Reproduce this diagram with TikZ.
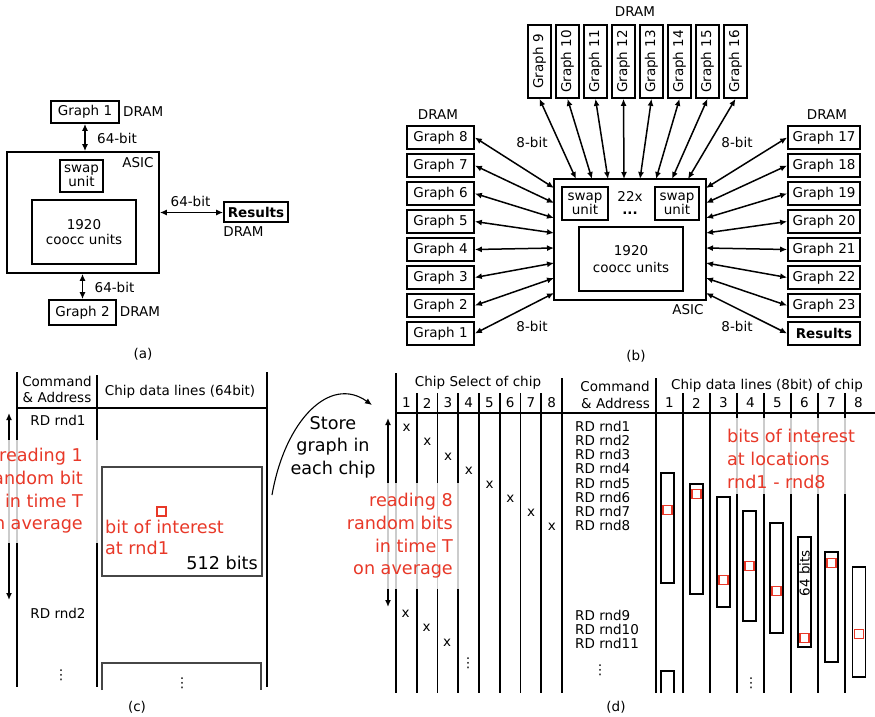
\documentclass[tikz,border=0pt]{standalone}
\usepackage{fontspec}
\setmainfont{DejaVu Sans}
\usetikzlibrary{arrows.meta}
\definecolor{myred}{RGB}{232,56,40}
\definecolor{dgray}{RGB}{70,70,70}
\begin{document}
\begin{tikzpicture}[x=1pt,y=-1pt,
  every node/.style={inner sep=0pt, font=\fontsize{13.5}{16}\selectfont},
  gbox/.style={draw, line width=1.7pt, fill=white, inner sep=0pt},
  dbl/.style={{Latex[length=7pt,width=6pt]}-{Latex[length=7pt,width=6pt]}, line width=1.5pt},
  tline/.style={line width=1.9pt},
  big/.style={font=\fontsize{17.6}{22.7}\selectfont},
  redtxt/.style={big, text=myred},
  rsq/.style={draw=myred, line width=1.5pt, minimum size=9pt, inner sep=0pt, fill=white},
  tall/.style={draw, line width=1.6pt, minimum width=13pt, minimum height=110pt},
  veil/.style={fill=white, fill opacity=0.8},
]
\useasboundingbox (0,0) rectangle (875,716);

% ---------------- (a) ----------------
\node[gbox, minimum width=68pt, minimum height=22pt] (ag1) at (85,112) {Graph 1};
\node[anchor=west] (ad1) at (123,112) {DRAM};
\node[gbox, minimum width=152pt, minimum height=121pt] (aasic) at (83,212.5) {};
\node (aasiclbl) at (138,163) {ASIC};
\node[gbox, minimum width=43pt, minimum height=32pt, align=center, font=\fontsize{13.5}{14}\selectfont] (aswap) at (81.5,176) {swap\\unit};
\node[gbox, minimum width=104pt, minimum height=64pt, align=center, font=\fontsize{13.5}{15}\selectfont] (acoocc) at (84,232) {1920\\coocc units};
\draw[dbl] (ag1.south) -- (ag1.south |- aasic.north);
\node (al1) at (117,138) {64-bit};
\node[gbox, minimum width=64pt, minimum height=20pt, font=\fontsize{13.5}{16}\selectfont\bfseries] (ares) at (256,212) {Results};
\draw[dbl] (aasic.east) -- (aasic.east -| ares.west);
\node (al2) at (190.5,201) {64-bit};
\node (ad2) at (243.5,232) {DRAM};
\node[gbox, minimum width=67pt, minimum height=25pt] (ag2) at (82.5,312.5) {Graph 2};
\draw[dbl] (ag2.north |- aasic.south) -- (ag2.north);
\node (al3) at (114.5,287) {64-bit};
\node (ad3) at (140,312) {DRAM};
\node (acap) at (143,354) {(a)};

% ---------------- (b) ----------------
\node[gbox, minimum width=152pt, minimum height=121pt] (basic) at (630,239.5) {};
\node[gbox, minimum width=46pt, minimum height=33pt, align=center, font=\fontsize{13.5}{14}\selectfont] (bswap1) at (585,203.5) {swap\\unit};
\node[gbox, minimum width=44pt, minimum height=33pt, align=center, font=\fontsize{13.5}{14}\selectfont] (bswap2) at (677,203.5) {swap\\unit};
\node (b22x) at (630,196.5) {22x};
\node[font=\fontsize{13.5}{16}\selectfont\bfseries] (bdots) at (630,213) {...};
\node[gbox, minimum width=104pt, minimum height=64pt, align=center, font=\fontsize{13.5}{17}\selectfont] (bcoocc) at (631,259) {1920\\coocc units};
\node (basiclbl) at (688,310) {ASIC};
\node (bdtop) at (635,12) {DRAM};
\node (bdleft) at (438,115) {DRAM};
\node (bdright) at (827,115) {DRAM};
\node (bl1) at (532,142) {8-bit};
\node (bl2) at (737,142) {8-bit};
\node (bl3) at (532,326) {8-bit};
\node (bl4) at (737,326) {8-bit};
\node (bcap) at (636,356) {(b)};
\foreach \i in {0,...,7} {
  \pgfmathtruncatemacro\n{9+\i}
  \node[gbox, minimum width=73pt, minimum height=23pt, rotate=90] (bg\n) at (539.5+28*\i,61.5) {Graph \n};
  \coordinate (bt\i) at (576+16*\i,179);
  \draw[dbl] (bg\n.west) -- (bt\i);
}
\foreach \k in {0,...,7} {
  \pgfmathtruncatemacro\n{8-\k}
  \node[gbox, minimum width=67pt, minimum height=23pt] (bg\n) at (440.5,137.5+28*\k) {Graph \n};
  \coordinate (blc\k) at (554,188+15*\k);
  \draw[dbl] (bg\n.east) -- (blc\k);
}
\foreach \k in {0,...,6} {
  \pgfmathtruncatemacro\n{17+\k}
  \node[gbox, minimum width=72pt, minimum height=23pt] (bg\n) at (824,137.5+28*\k) {Graph \n};
  \coordinate (brc\k) at (706,188+15*\k);
  \draw[dbl] (bg\n.west) -- (brc\k);
}
\node[gbox, minimum width=72pt, minimum height=23pt, font=\fontsize{13.5}{16}\selectfont\bfseries] (bres) at (824,333.5) {Results};
\coordinate (brc7) at (706,293);
\draw[dbl] (bres.west) -- (brc7);

% ---------------- (c) ----------------
\draw[tline] (17,372) -- (17,687);
\draw[tline] (97,375) -- (97,687);
\draw[tline] (267,372) -- (267,687);
\draw[tline] (17,408) -- (267,408);
\node[align=center, font=\fontsize{13.5}{16}\selectfont] (ccmd) at (57,389) {Command\\\& Address};
\node (cdata) at (180,392) {Chip data lines (64bit)};
\coordinate (ca1) at (9,413);
\coordinate (ca2) at (9,600);
\draw[dbl, line width=1.7pt] (ca1) -- (ca2);
\node (crd1) at (58,420) {RD rnd1};
\node (crd2) at (58,613) {RD rnd2};
\node (cvd1) at (61,675) {⋮};
\node[draw=dgray, line width=1.5pt, minimum width=160pt, minimum height=109pt] (cblk) at (182,521.5) {};
\node[rsq] (csq) at (161.5,511.5) {};
\node[redtxt, anchor=west, align=left, font=\fontsize{17.6}{21}\selectfont] (cboi) at (105,537.5) {bit of interest\\at rnd1};
\node[big, anchor=east] (c512) at (258,563) {512 bits};
\draw[dgray, line width=1.5pt] (102,690) -- (102,663) -- (261,663) -- (261,690);
\node (cvd2) at (182,683) {⋮};
\fill[veil] (-5,440) rectangle (99,543);
\node[redtxt, anchor=east, align=right] (cread) at (83,491) {reading 1\\random bit\\in time T\\on average};
\node (ccap) at (137,707) {(c)};

% ---------------- (d) ----------------
\coordinate (cs0) at (272,495);
\coordinate (ce0) at (372,405);
\draw[-{Latex[length=7pt,width=6pt]}, line width=1.1pt] (cs0) .. controls (285,420) and (330,375) .. (ce0);
\node[big, align=center] (dstore) at (333,447) {Store\\graph in\\each chip};
\draw[tline] (396,373) -- (396,693);
\foreach \j in {1,...,7} { \draw[tline] (396+20.75*\j,393) -- (396+20.75*\j,693); }
\draw[tline] (562,378) -- (562,693);
\draw[tline] (656,378) -- (656,693);
\foreach \j in {1,...,7} { \draw[tline] (656+27*\j,393) -- (656+27*\j,693); }
\draw[tline] (396,413) -- (875,413);
\node (dcs) at (478,383) {Chip Select of chip};
\foreach \j in {1,...,8} {
  \node (dn\j) at (385.75+20.75*\j,403) {\j};
  \node (dm\j) at (642.5+27*\j,403) {\j};
}
\node[align=right, anchor=east, font=\fontsize{13.5}{17}\selectfont] (dcmd) at (650,394.5) {Command\\\& Address};
\node (ddata) at (767,386) {Chip data lines (8bit) of chip};
\coordinate (da1) at (388,418);
\coordinate (da2) at (388,607);
\draw[dbl, line width=1.7pt] (da1) -- (da2);
\foreach \i in {0,...,7} {
  \node (dx\i) at (406.5+20.75*\i,428+14.15*\i) {x};
}
\node (dx8) at (405.5,614) {x};
\node (dx9) at (426.5,628) {x};
\node (dx10) at (447,643) {x};
\node (dvd1) at (468,663) {⋮};
\node[align=left, anchor=west, font=\fontsize{13.5}{14.1}\selectfont] (drd1) at (575,476) {RD rnd1\\RD rnd2\\RD rnd3\\RD rnd4\\RD rnd5\\RD rnd6\\RD rnd7\\RD rnd8};
\node[align=left, anchor=west, font=\fontsize{13.5}{14}\selectfont] (drd2) at (575,629) {RD rnd9\\RD rnd10\\RD rnd11};
\node (dvd2) at (600,670) {⋮};
\foreach \c/\cx/\ty/\ry in {1/667.5/473/510, 2/696.5/484/494, 3/723.5/497/580, 4/749.5/511/566, 5/776.5/523/591, 6/804.5/537/638, 7/831.5/552/563, 8/859/567/634} {
  \node[tall] (dt\c) at (\cx,\ty+55) {};
  \node[rsq] (dr\c) at (\cx,\ry) {};
}
\node[rotate=90] (d64) at (804.5,573) {64 bits};
\draw[line width=1.6pt] (661,693) -- (661,671) -- (674,671) -- (674,693);
\node (dvd3) at (751,683) {⋮};
\fill[veil] (380,483) rectangle (460,589);
\node[redtxt, anchor=east, align=right] (dread) at (453,536) {reading 8\\random bits\\in time T\\on average};
\fill[veil] (725,418) rectangle (852,494);
\node[redtxt, anchor=west, align=left] (dboi) at (727,459) {bits of interest\\at locations\\rnd1 - rnd8};
\node (dcap) at (616,707) {(d)};
\end{tikzpicture}
\end{document}
